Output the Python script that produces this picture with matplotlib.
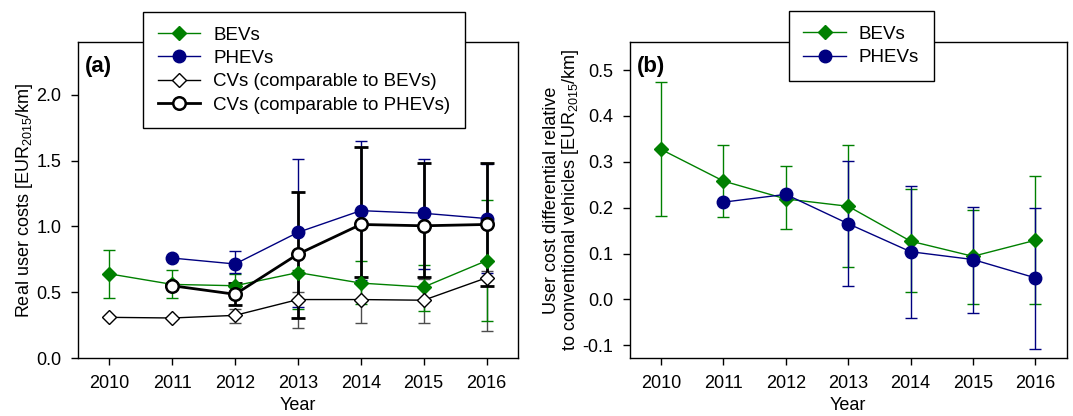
import numpy as np
import matplotlib
matplotlib.use("Agg")
import matplotlib.pyplot as plt

plt.rcParams["font.family"] = ["Liberation Sans", "DejaVu Sans"]
plt.rcParams["mathtext.fontset"] = "custom"
plt.rcParams["mathtext.rm"] = "Liberation Sans"

nan = np.nan
years = [2010, 2011, 2012, 2013, 2014, 2015, 2016]

# (a) real user costs, EUR2015/km, with lower / upper bounds
bev_cost = [0.64, 0.56, 0.55, 0.65, 0.57, 0.54, 0.74]
bev_cost_lo = [0.46, 0.46, 0.46, 0.37, 0.41, 0.36, 0.28]
bev_cost_hi = [0.82, 0.67, 0.64, 0.67, 0.74, 0.71, 1.20]

phev_cost = [nan, 0.76, 0.715, 0.955, 1.12, 1.10, 1.06]
phev_cost_lo = [nan, 0.76, 0.645, 0.39, 0.59, 0.675, 0.65]
phev_cost_hi = [nan, 0.76, 0.81, 1.51, 1.645, 1.51, 1.475]

cv_bev_cost = [0.31, 0.305, 0.325, 0.445, 0.445, 0.44, 0.61]
cv_bev_cost_lo = [0.31, 0.305, 0.27, 0.23, 0.27, 0.27, 0.21]
cv_bev_cost_hi = [0.31, 0.305, 0.37, 0.50, 0.62, 0.60, 0.66]

cv_phev_cost = [nan, 0.55, 0.485, 0.79, 1.015, 1.005, 1.015]
cv_phev_cost_lo = [nan, 0.55, 0.40, 0.305, 0.62, 0.615, 0.545]
cv_phev_cost_hi = [nan, 0.55, 0.57, 1.265, 1.60, 1.48, 1.48]

# (b) cost differential relative to conventional vehicles
bev_diff = [0.327, 0.258, 0.219, 0.203, 0.127, 0.094, 0.129]
bev_diff_lo = [0.181, 0.179, 0.154, 0.070, 0.017, -0.009, -0.010]
bev_diff_hi = [0.474, 0.337, 0.291, 0.337, 0.240, 0.195, 0.269]

phev_diff = [nan, 0.212, 0.229, 0.165, 0.104, 0.087, 0.047]
phev_diff_lo = [nan, 0.212, 0.229, 0.029, -0.040, -0.029, -0.107]
phev_diff_hi = [nan, 0.212, 0.229, 0.301, 0.247, 0.202, 0.200]

GREEN = "#008000"
NAVY = "#000080"
FS = 13
LEG_FS = 13.5


def draw_errors(ax, y, lo, hi, color, lw, capsize):
    y = np.asarray(y, dtype=float)
    err = np.vstack([y - np.asarray(lo, dtype=float), np.asarray(hi, dtype=float) - y])
    ax.errorbar(years, y, yerr=err, fmt="none", ecolor=color, elinewidth=lw,
                capsize=capsize, capthick=lw, zorder=2)


def style_axes(ax):
    ax.set_xlim(2009.5, 2016.5)
    ax.set_xticks(years)
    ax.tick_params(axis="both", direction="out", length=5, width=1, labelsize=FS,
                   pad=7, top=False, right=False)
    for spine in ax.spines.values():
        spine.set_linewidth(1)
    ax.set_xlabel("Year", fontsize=FS, labelpad=4)


def add_legend(ax, anchor):
    leg = ax.legend(loc="upper left", bbox_to_anchor=anchor, borderaxespad=0,
                    fontsize=LEG_FS, frameon=True, fancybox=False, edgecolor="black",
                    handlelength=2.25, handletextpad=0.7, labelspacing=0.33, borderpad=0.78)
    leg.get_frame().set_linewidth(1)
    leg.get_frame().set_alpha(1)
    return leg


fig = plt.figure(figsize=(10.73, 4.16), dpi=100)
ax_a = fig.add_axes([0.0727, 0.139, 0.410, 0.760])
ax_b = fig.add_axes([0.587, 0.139, 0.407, 0.760])

# panel (a)
draw_errors(ax_a, cv_bev_cost, cv_bev_cost_lo, cv_bev_cost_hi, "#4d4d4d", 1.0, 4)
draw_errors(ax_a, bev_cost, bev_cost_lo, bev_cost_hi, GREEN, 1.0, 4)
draw_errors(ax_a, phev_cost, phev_cost_lo, phev_cost_hi, NAVY, 1.0, 4)
draw_errors(ax_a, cv_phev_cost, cv_phev_cost_lo, cv_phev_cost_hi, "black", 2.0, 5)

ax_a.plot(years, bev_cost, color=GREEN, lw=1, marker="D", ms=7, mfc=GREEN, mec=GREEN,
          label="BEVs", zorder=3)
ax_a.plot(years, phev_cost, color=NAVY, lw=1, marker="o", ms=9, mfc=NAVY, mec=NAVY,
          label="PHEVs", zorder=3)
ax_a.plot(years, cv_bev_cost, color="black", lw=1, marker="D", ms=7, mfc="white", mec="black",
          mew=1, label="CVs (comparable to BEVs)", zorder=4)
ax_a.plot(years, cv_phev_cost, color="black", lw=2, marker="o", ms=9, mfc="white", mec="black",
          mew=1.8, label="CVs (comparable to PHEVs)", zorder=4)

style_axes(ax_a)
ax_a.set_ylim(0, 2.4)
ax_a.set_yticks([0.0, 0.5, 1.0, 1.5, 2.0])
ax_a.set_yticklabels(["0.0", "0.5", "1.0", "1.5", "2.0"])
ax_a.set_ylabel(r"Real user costs [EUR$_{\mathregular{2015}}$/km]", fontsize=FS, labelpad=1)
ax_a.text(0.016, 0.955, "(a)", transform=ax_a.transAxes, fontsize=16, fontweight="bold",
          va="top", ha="left")
add_legend(ax_a, (0.148, 1.095))

# panel (b)
draw_errors(ax_b, bev_diff, bev_diff_lo, bev_diff_hi, GREEN, 1.0, 4)
draw_errors(ax_b, phev_diff, phev_diff_lo, phev_diff_hi, NAVY, 1.0, 4)
ax_b.plot(years, bev_diff, color=GREEN, lw=1, marker="D", ms=7, mfc=GREEN, mec=GREEN,
          label="BEVs", zorder=3)
ax_b.plot(years, phev_diff, color=NAVY, lw=1, marker="o", ms=9, mfc=NAVY, mec=NAVY,
          label="PHEVs", zorder=3)

style_axes(ax_b)
ax_b.set_ylim(-0.128, 0.561)
ax_b.set_yticks([-0.1, 0.0, 0.1, 0.2, 0.3, 0.4, 0.5])
ax_b.set_yticklabels(["-0.1", "0.0", "0.1", "0.2", "0.3", "0.4", "0.5"])
ax_b.set_ylabel("User cost differential relative\n"
                r"to conventional vehicles [EUR$_{\mathregular{2015}}$/km]",
                fontsize=FS, labelpad=1, linespacing=1.0)
ax_b.text(0.016, 0.955, "(b)", transform=ax_b.transAxes, fontsize=16, fontweight="bold",
          va="top", ha="left")
add_legend(ax_b, (0.364, 1.098))

fig.savefig("out.png", dpi=100)
